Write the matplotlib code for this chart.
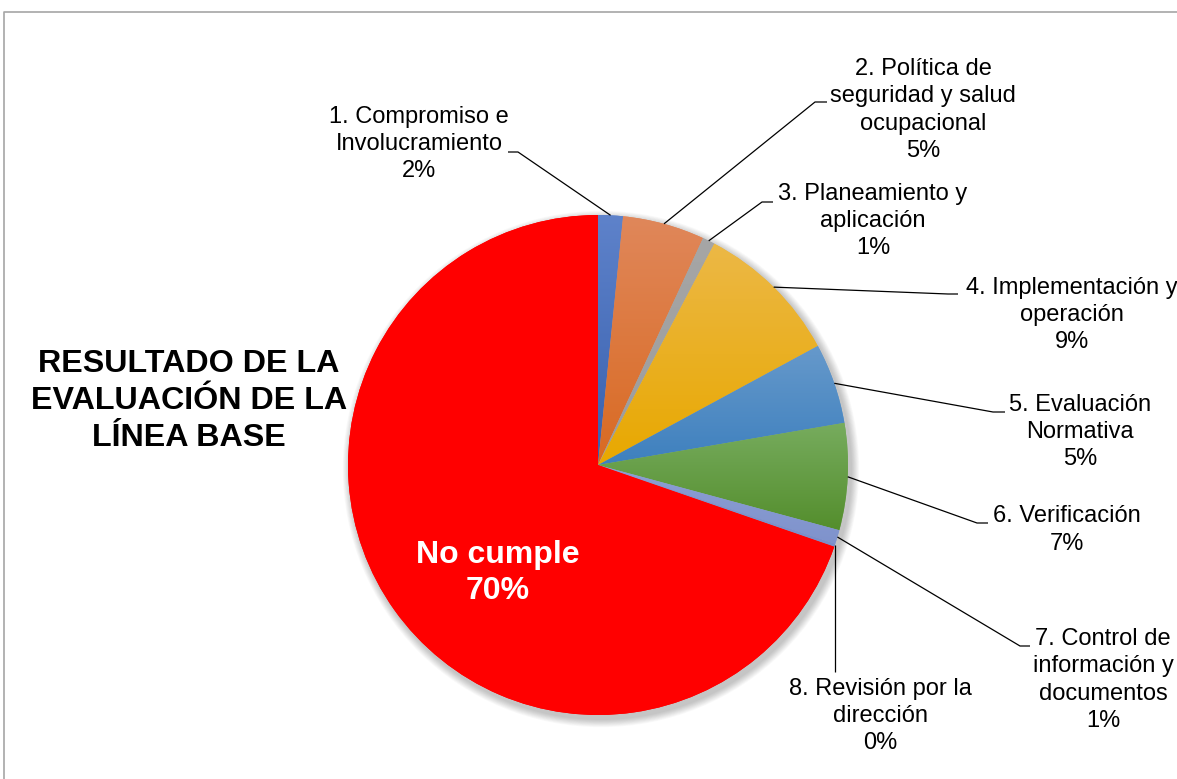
import numpy as np
import matplotlib.pyplot as plt
from matplotlib.patches import Circle
from matplotlib.colors import to_rgb

plt.rcParams['font.family'] = ['Liberation Sans', 'DejaVu Sans']

W, H = 1177, 779

# Data (percent of the baseline evaluation)
categories = ['1. Compromiso e\nInvolucramiento',
              '2. Política de\nseguridad y salud\nocupacional',
              '3. Planeamiento y\naplicación',
              '4. Implementación y\noperación',
              '5. Evaluación\nNormativa',
              '6. Verificación',
              '7. Control de\ninformación y\ndocumentos',
              '8. Revisión por la\ndirección',
              'No cumple']
values = [1.6, 5.3, 0.8, 9.4, 5.2, 6.9, 0.9, 0.2, 69.7]

# top / bottom colours of each slice (Excel-like gradient)
top_colors = ['#5E82CA', '#E0875A', '#A6A6A6', '#ECB846', '#6699CB',
              '#77AC5E', '#8C9ED4', '#8497CF', '#FF0000']
bottom_colors = ['#3860AE', '#D96A22', '#9C9C9C', '#E8A800', '#3E80BE',
                 '#548E2D', '#7F93CC', '#7A8EC9', '#FF0000']

# label layout in pixel coordinates (y measured from the top)
label_pos = [(419, 144), (923, 110), (873, 221), (1072, 315), (1080, 432),
             (1067, 530), (1103, 680), (880, 716)]
leader_pts = [[(518, 152), (508, 152)],
              [(815, 102), (827, 102)],
              [(762, 202), (773, 202)],
              [(948, 294), (958, 294)],
              [(993, 412), (1005, 412)],
              [(977, 523), (988, 523)],
              [(1020, 646), (1030, 646)],
              [(None, 672)]]

cx, cy, R = 598, 465, 250


def py(y):
    return H - y


fig = plt.figure(figsize=(W / 100, H / 100), dpi=100)
ax = fig.add_axes([0, 0, 1, 1])

# soft shadow behind the pie
for i in range(10):
    ax.add_patch(Circle((cx + 3, py(cy) - 4), R + 1 + i * 0.8,
                        facecolor='black', edgecolor='none', alpha=0.025, zorder=1))

wedges, _ = ax.pie(values, startangle=90, counterclock=False,
                   center=(cx, py(cy)), radius=R, colors=top_colors,
                   wedgeprops=dict(linewidth=0, zorder=2))

# vertical gradient inside each wedge
for w, c1, c2 in zip(wedges, top_colors, bottom_colors):
    ext = w.get_path().get_extents()
    t = np.linspace(0, 1, 64)[:, None]
    grad = (1 - t) * np.array(to_rgb(c1)) + t * np.array(to_rgb(c2))
    img = ax.imshow(grad[:, None, :].repeat(2, axis=1),
                    extent=[ext.x0, ext.x1, ext.y0, ext.y1],
                    origin='upper', aspect='auto', zorder=3, interpolation='bilinear')
    img.set_clip_path(w)

# labels with leader lines
for i, (name, v) in enumerate(zip(categories[:-1], values[:-1])):
    w = wedges[i]
    mid = np.deg2rad((w.theta1 + w.theta2) / 2)
    ax_, ay_ = cx + R * np.cos(mid), py(cy) + R * np.sin(mid)
    xs, ys = [ax_], [ay_]
    for (x, y) in leader_pts[i]:
        xs.append(ax_ if x is None else x)
        ys.append(py(y))
    ax.plot(xs, ys, color='black', lw=0.9, zorder=4, solid_capstyle='butt')
    tx, ty = label_pos[i]
    ax.text(tx, py(ty), f'{name}\n{round(v)}%', ha='center', va='center',
            fontsize=17, linespacing=1.3, color='black', zorder=5)

ax.text(498, py(573), f'{categories[-1]}\n{round(values[-1])}%', ha='center',
        va='center', fontsize=23, fontweight='bold', color='white',
        linespacing=1.28, zorder=5)

ax.text(189, py(401), 'RESULTADO DE LA\nEVALUACIÓN DE LA\nLÍNEA BASE',
        ha='center', va='center', fontsize=23.2, fontweight='bold',
        color='black', linespacing=1.3, zorder=5)

# chart frame (runs off the right and bottom edges)
ax.plot([4, 4, W + 10], [-10, py(12), py(12)], color='#A6A6A6', lw=1.2, zorder=6)

ax.set_xlim(0, W)
ax.set_ylim(0, H)
ax.set_aspect('auto')
ax.axis('off')

fig.savefig('out.png', dpi=100)
